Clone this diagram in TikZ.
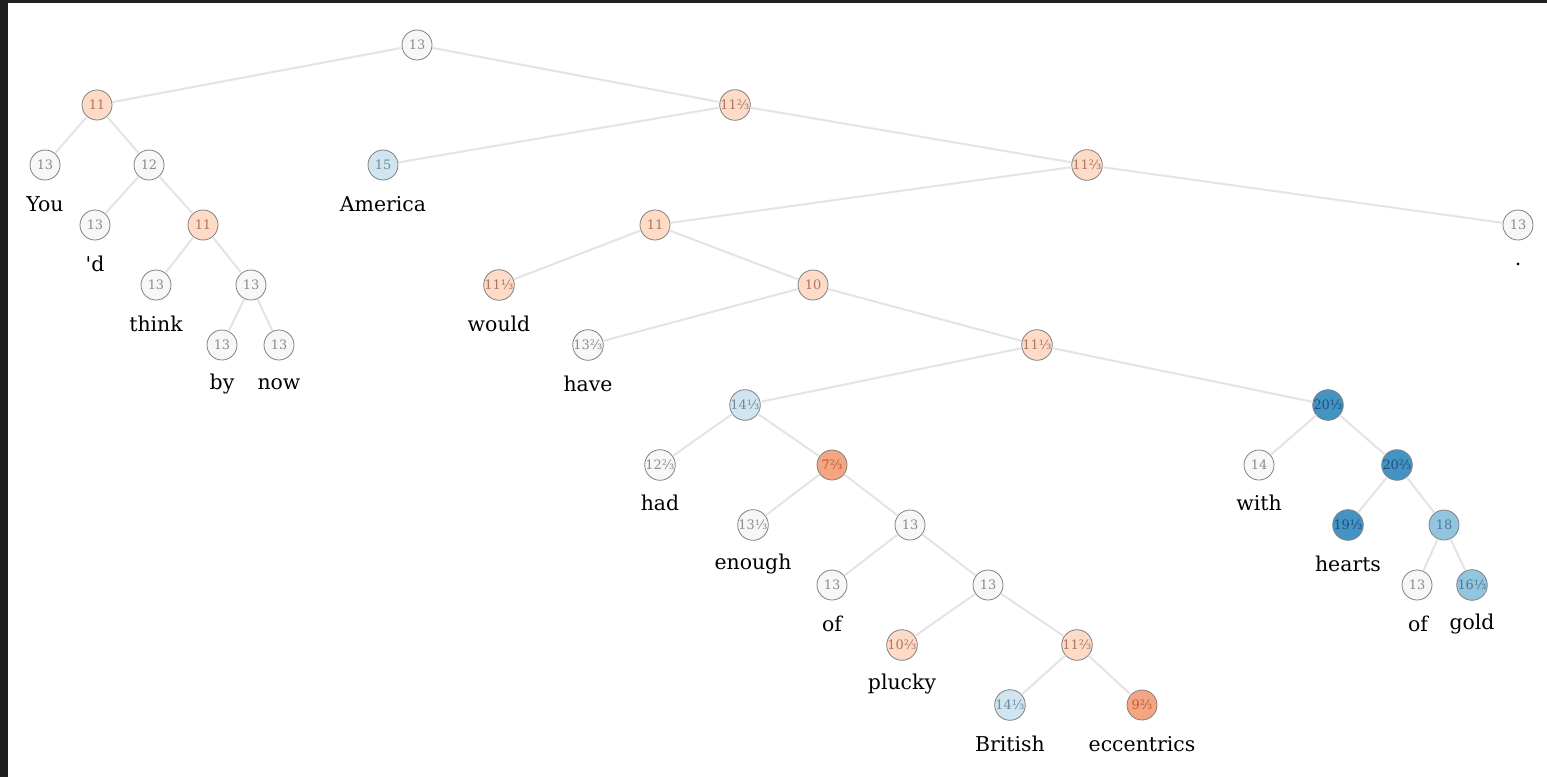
\documentclass[tikz,border=0pt]{standalone}
\usepackage{fontspec}
\setmainfont{DejaVu Serif}
\newfontfamily\wordfont{DejaVu Serif}
\begin{document}
\begin{tikzpicture}[x=1bp,y=-1bp,
  tn/.style={circle,draw=black!50,line width=0.8bp,minimum size=30bp,inner sep=0pt,
    font=\wordfont\fontsize{13}{13}\selectfont,text=black!45},
  nw/.style={tn,fill=black!3},
  no1/.style={tn,fill={rgb,255:red,253;green,219;blue,199},text={rgb,255:red,170;green,120;blue,100}},
  no2/.style={tn,fill={rgb,255:red,244;green,165;blue,130},text={rgb,255:red,190;green,90;blue,60}},
  nb1/.style={tn,fill={rgb,255:red,209;green,229;blue,240},text={rgb,255:red,110;green,140;blue,160}},
  nb2/.style={tn,fill={rgb,255:red,146;green,197;blue,222},text={rgb,255:red,80;green,120;blue,150}},
  nb3/.style={tn,fill={rgb,255:red,67;green,147;blue,195},text={rgb,255:red,30;green,80;blue,130}},
  word/.style={font=\wordfont\fontsize{20.5}{22}\selectfont,text=black,inner sep=0pt},
  edge/.style={draw={rgb,255:red,228;green,228;blue,228},line width=2bp}]
% frame
\fill[black!88] (0,0) rectangle (1547,777);
\fill[white] (8,3) rectangle (1547,777);
\useasboundingbox (0,0) rectangle (1547,777);
% nodes
\node[nw]  (root) at (417,45) {13};
\node[no1] (a) at (97,105) {11};
\node[no1] (b) at (735,105) {11⅔};
\node[nw]  (you) at (45,165) {13};
\node[nw]  (c) at (149,165) {12};
\node[nb1] (america) at (383,165) {15};
\node[no1] (d) at (1087,165) {11⅔};
\node[nw]  (dd) at (95,225) {13};
\node[no1] (e) at (203,225) {11};
\node[no1] (f) at (655,225) {11};
\node[nw]  (dot) at (1518,225) {13};
\node[nw]  (think) at (156,285) {13};
\node[nw]  (g) at (251,285) {13};
\node[no1] (would) at (499,285) {11⅓};
\node[no1] (h) at (813,285) {10};
\node[nw]  (by) at (222,345) {13};
\node[nw]  (now) at (279,345) {13};
\node[nw]  (have) at (588,345) {13⅔};
\node[no1] (i) at (1037,345) {11⅓};
\node[nb1] (j) at (745,405) {14⅓};
\node[nb3] (k) at (1328,405) {20⅓};
\node[nw]  (had) at (660,465) {12⅔};
\node[no2] (l) at (832,465) {7⅔};
\node[nw]  (with) at (1259,465) {14};
\node[nb3] (m) at (1397,465) {20⅔};
\node[nw]  (enough) at (753,525) {13⅓};
\node[nw]  (n) at (910,525) {13};
\node[nb3] (hearts) at (1348,525) {19⅓};
\node[nb2] (o) at (1444,525) {18};
\node[nw]  (of1) at (832,585) {13};
\node[nw]  (p) at (988,585) {13};
\node[nw]  (of2) at (1417,585) {13};
\node[nb2] (gold) at (1472,585) {16⅓};
\node[no1] (plucky) at (902,645) {10⅔};
\node[no1] (q) at (1077,645) {11⅔};
\node[nb1] (british) at (1010,705) {14⅓};
\node[no2] (eccentrics) at (1142,705) {9⅔};
% words
\node[word] at (45,204) {You};
\node[word] at (383,204) {America};
\node[word] at (95,264) {'d};
\node[word] at (1518,264) {.};
\node[word] at (156,324) {think};
\node[word] at (499,324) {would};
\node[word] at (222,384) {by};
\node[word] at (279,384) {now};
\node[word] at (588,384) {have};
\node[word] at (660,503) {had};
\node[word] at (1259,503) {with};
\node[word] at (753,564) {enough};
\node[word] at (1348,564) {hearts};
\node[word] at (832,624) {of};
\node[word] at (1418,624) {of};
\node[word] at (1472,624) {gold};
\node[word] at (902,684) {plucky};
\node[word] at (1010,744) {British};
\node[word] at (1142,744) {eccentrics};
% edges
\foreach \u/\v in {root/a,root/b,a/you,a/c,c/dd,c/e,e/think,e/g,g/by,g/now,
  b/america,b/d,d/f,d/dot,f/would,f/h,h/have,h/i,i/j,i/k,j/had,j/l,l/enough,l/n,
  n/of1,n/p,p/plucky,p/q,q/british,q/eccentrics,k/with,k/m,m/hearts,m/o,o/of2,o/gold}
  \draw[edge] (\u) -- (\v);
\end{tikzpicture}
\end{document}
